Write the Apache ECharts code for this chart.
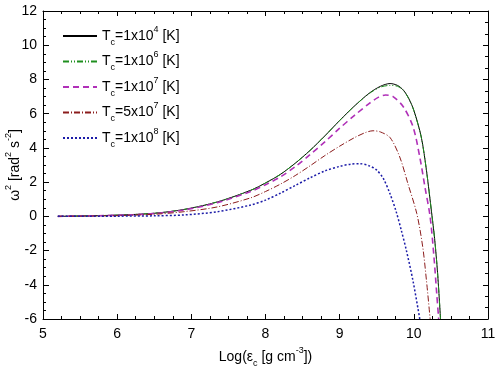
<!DOCTYPE html>
<html>
<head>
<meta charset="utf-8">
<script src="https://cdn.jsdelivr.net/npm/echarts@6/dist/echarts.min.js"></script>
<style>
  html, body { margin: 0; padding: 0; background: #fff; }
  #chart { width: 498px; height: 371px; }
</style>
</head>
<body>
<div id="chart"></div>
<script>
// curve values: [log eps_c, omega^2]
const tc1e4 = [
  [5.2, 0], [5.5, 0.02], [6.0, 0.07], [6.5, 0.18], [6.9, 0.4], [7.35, 0.84],
  [7.8, 1.52], [8.0, 1.95], [8.2, 2.45], [8.4, 3.1], [8.6, 3.85], [8.8, 4.7],
  [9.0, 5.6], [9.2, 6.45], [9.4, 7.2], [9.55, 7.6], [9.68, 7.76], [9.78, 7.65],
  [9.86, 7.37], [9.93, 6.9], [10.0, 6.2], [10.1, 4.64], [10.17, 2.69],
  [10.24, 0.2], [10.28, -1.3], [10.32, -3.3], [10.36, -6]
];
const tc1e6 = [
  [5.2, 0], [5.5, 0.02], [6.0, 0.07], [6.5, 0.18], [6.9, 0.4], [7.35, 0.84],
  [7.8, 1.52], [8.0, 1.95], [8.2, 2.45], [8.4, 3.1], [8.6, 3.85], [8.8, 4.7],
  [9.0, 5.6], [9.2, 6.45], [9.4, 7.18], [9.55, 7.55], [9.68, 7.65], [9.78, 7.6],
  [9.86, 7.35], [9.93, 6.88], [10.0, 6.18], [10.1, 4.62], [10.17, 2.69],
  [10.24, 0.2], [10.28, -1.3], [10.32, -3.3], [10.36, -6]
];
const tc1e7 = [
  [5.2, 0], [5.5, 0.02], [6.0, 0.06], [6.5, 0.16], [6.9, 0.37], [7.35, 0.8],
  [7.8, 1.45], [8.0, 1.85], [8.2, 2.3], [8.4, 2.9], [8.6, 3.6], [8.8, 4.35],
  [9.0, 5.15], [9.2, 5.9], [9.4, 6.6], [9.52, 6.95], [9.62, 7.09], [9.72, 7.0],
  [9.86, 6.39], [9.99, 5.22], [10.08, 3.47], [10.15, 1.71], [10.22, -0.04],
  [10.27, -2.3], [10.31, -4.6], [10.335, -6]
];
const tc5e7 = [
  [5.2, 0], [5.5, 0.01], [6.0, 0.04], [6.5, 0.12], [6.9, 0.27], [7.35, 0.55],
  [7.8, 1.08], [8.0, 1.45], [8.2, 1.88], [8.4, 2.38], [8.6, 2.95], [8.8, 3.55],
  [9.0, 4.1], [9.2, 4.6], [9.35, 4.9], [9.45, 5.0], [9.55, 4.93], [9.68, 4.6],
  [9.81, 3.47], [9.92, 1.91], [10.04, 0.16], [10.12, -1.79], [10.17, -3.74],
  [10.22, -6]
];
const tc1e8 = [
  [5.2, 0], [5.5, 0], [6.0, 0.01], [6.5, 0.03], [6.9, 0.08], [7.35, 0.27],
  [7.8, 0.66], [8.0, 0.95], [8.2, 1.35], [8.4, 1.8], [8.6, 2.25], [8.8, 2.65],
  [9.0, 2.92], [9.15, 3.05], [9.27, 3.08], [9.4, 2.95], [9.5, 2.7], [9.59, 2.2],
  [9.68, 1.3], [9.76, 0.3], [9.83, -0.8], [9.9, -2.0], [9.99, -3.8], [10.08, -6]
];
const seriesNames = [
  '{t|T}{sub|c}{t|=1x10}{sup|4}{t| [K]}',
  '{t|T}{sub|c}{t|=1x10}{sup|6}{t| [K]}',
  '{t|T}{sub|c}{t|=1x10}{sup|7}{t| [K]}',
  '{t|T}{sub|c}{t|=5x10}{sup|7}{t| [K]}',
  '{t|T}{sub|c}{t|=1x10}{sup|8}{t| [K]}'
];
const xTicks = [5, 6, 7, 8, 9, 10, 11];
const yTicks = [-6, -4, -2, 0, 2, 4, 6, 8, 10, 12];

const font = 'Liberation Sans, Arial, sans-serif';
const richText = {
  t: { fontSize: 14, fontFamily: font, color: '#000', lineHeight: 22, verticalAlign: 'middle' },
  sup: { fontSize: 9, fontFamily: font, color: '#000', lineHeight: 10, verticalAlign: 'top' },
  sub: { fontSize: 9, fontFamily: font, color: '#000', lineHeight: 10, verticalAlign: 'bottom' }
};

const chart = echarts.init(document.getElementById('chart'));

function makeLine(name, data, color, type, width) {
  return {
    name: name,
    type: 'line',
    data: data,
    symbol: 'none',
    smooth: 0.3,
    clip: true,
    lineStyle: { color: color, type: type, width: width },
    itemStyle: { color: color }
  };
}

const axisLine = { show: true, onZero: false, lineStyle: { color: '#000', width: 1 } };

chart.setOption({
  animation: false,
  backgroundColor: '#fff',
  grid: { left: 43, right: 10, top: 11, bottom: 52, outerBoundsMode: 'none', containLabel: false },
  legend: {
    orient: 'vertical',
    left: 57,
    top: 20,
    itemWidth: 34,
    itemHeight: 10,
    itemGap: 3.5,
    itemStyle: { opacity: 0 },
    formatter: function (n) { return n; },
    textStyle: { rich: richText }
  },
  xAxis: [
    {
      type: 'value', min: xTicks[0], max: xTicks[xTicks.length - 1], interval: 1,
      axisLine: axisLine,
      axisTick: { show: true, inside: true, length: 5, lineStyle: { color: '#000' } },
      minorTick: { show: true, splitNumber: 4, length: 3, lineStyle: { color: '#000' } },
      splitLine: { show: false },
      axisLabel: { color: '#000', fontSize: 14, fontFamily: font, margin: 8 },
      name: '{t|Log(ε}{sub|c}{t| [g cm}{sup|-3}{t|])}',
      nameLocation: 'middle',
      nameGap: 27,
      nameTextStyle: { rich: richText }
    },
    {
      type: 'value', position: 'top', min: 5, max: 11, interval: 1,
      axisLine: axisLine,
      axisTick: { show: true, inside: true, length: 5, lineStyle: { color: '#000' } },
      minorTick: { show: true, splitNumber: 4, length: 3, lineStyle: { color: '#000' } },
      splitLine: { show: false },
      axisLabel: { show: false }
    }
  ],
  yAxis: [
    {
      type: 'value', min: yTicks[0], max: yTicks[yTicks.length - 1], interval: 2,
      axisLine: axisLine,
      axisTick: { show: true, inside: true, length: 6, lineStyle: { color: '#000' } },
      minorTick: { show: true, splitNumber: 4, length: 3, lineStyle: { color: '#000' } },
      splitLine: { show: false },
      axisLabel: { color: '#000', fontSize: 14, fontFamily: font, margin: 6 },
      name: '{t|ω}{sup|2}{t| [rad}{sup|2}{t| s}{sup|-2}{t|]}',
      nameLocation: 'middle',
      nameRotate: 90,
      nameGap: 17,
      nameMoveOverlap: false,
      nameTextStyle: { rich: richText }
    },
    {
      type: 'value', position: 'right', min: -6, max: 12, interval: 2,
      axisLine: axisLine,
      axisTick: { show: true, inside: true, length: 5, lineStyle: { color: '#000' } },
      minorTick: { show: true, splitNumber: 3, length: 3, lineStyle: { color: '#000' } },
      splitLine: { show: false },
      axisLabel: { show: false }
    }
  ],
  series: [
    makeLine(seriesNames[0], tc1e4, '#000000', 'solid', 1),
    makeLine(seriesNames[1], tc1e6, '#1f8f1f', [6, 2, 1, 2, 1, 2], 1),
    makeLine(seriesNames[2], tc1e7, '#b030b8', [6, 4], 1.6),
    makeLine(seriesNames[3], tc5e7, '#8b1c1c', [6, 2, 1, 2], 1),
    makeLine(seriesNames[4], tc1e8, '#1c1ca8', [2, 2], 1.5)
  ]
});
</script>
</body>
</html>
